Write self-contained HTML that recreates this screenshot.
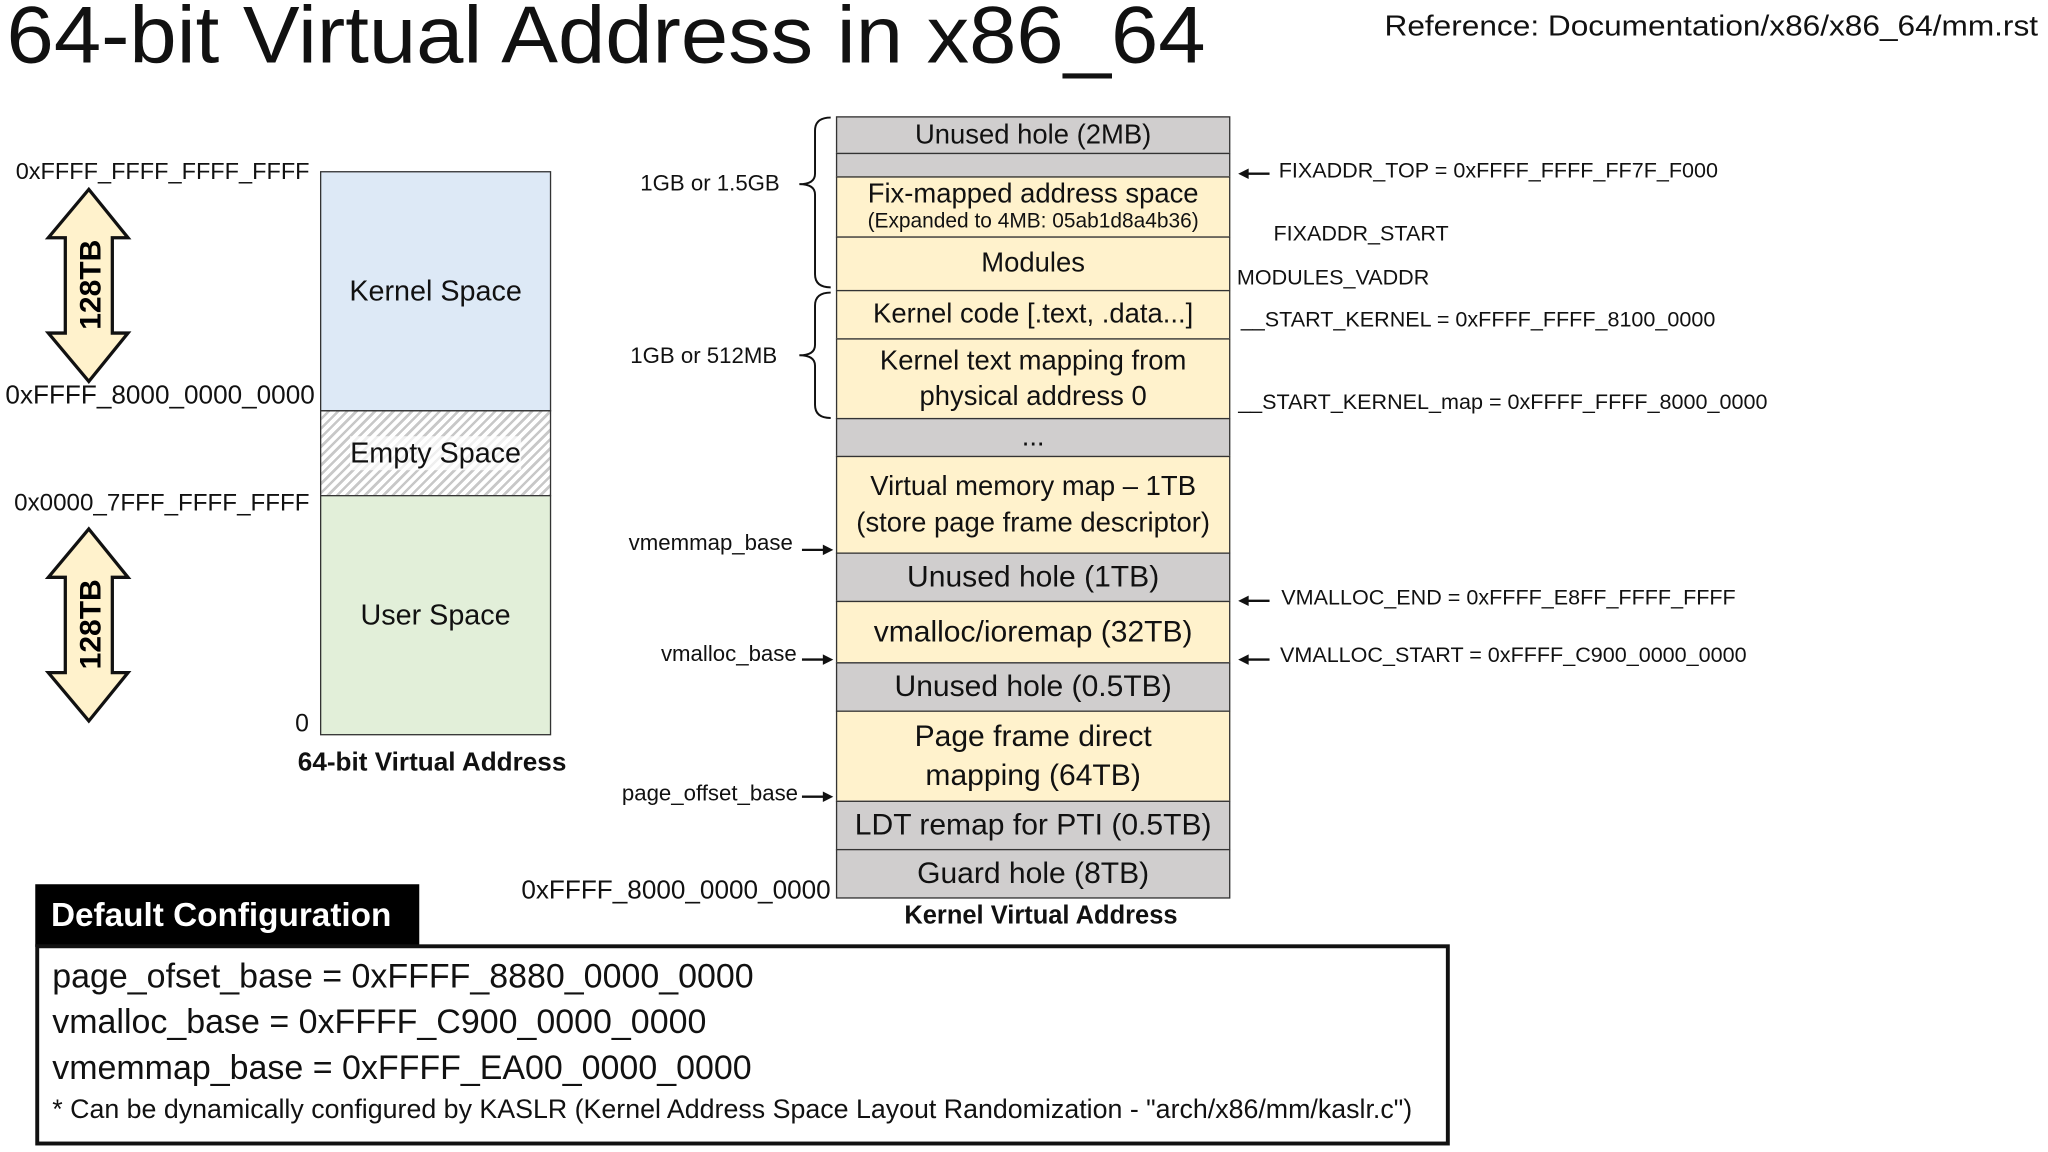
<!DOCTYPE html>
<html><head><meta charset="utf-8">
<style>
html,body{margin:0;padding:0;background:#fff;width:2048px;height:1152px;overflow:hidden}
#w{position:absolute;left:0;top:0;width:1568px;height:882px;transform:scale(1.30612);transform-origin:0 0;font-family:"Liberation Sans",sans-serif;color:#111}
.a{position:absolute;white-space:nowrap}
.r{position:absolute;left:640px;width:302px;border:1.5px solid #333;box-sizing:border-box;display:flex;flex-direction:column;align-items:center;justify-content:center;text-align:center;font-size:21px;line-height:1.3}
.g{background:#d0cece}.y{background:#fff2cc}
.lab{font-size:16.5px}
.ll{font-size:17px}
</style></head><body><div id="w">
<div class="a" style="left:5px;top:-8px;font-size:62px;transform:scaleX(1.05);transform-origin:0 0">64-bit Virtual Address in x86_64</div>
<div class="a" style="left:1060px;top:7px;font-size:22px;transform:scaleX(1.1);transform-origin:0 0">Reference: Documentation/x86/x86_64/mm.rst</div>

<!-- left column -->
<div class="a" style="left:245px;top:131px;width:177px;height:184px;background:#dde9f6;border:1.5px solid #333;box-sizing:border-box;display:flex;align-items:center;justify-content:center;font-size:22px">Kernel Space</div>
<div class="a" style="left:245px;top:314px;width:177px;height:66px;background:repeating-linear-gradient(135deg,#fff 0 3px,#c8c8c8 3px 5px);border:1.5px solid #333;box-sizing:border-box;display:flex;align-items:center;justify-content:center;font-size:22px"><span style="background:rgba(255,255,255,.7)">Empty Space</span></div>
<div class="a" style="left:245px;top:379px;width:177px;height:184px;background:#e2efd9;border:1.5px solid #333;box-sizing:border-box;display:flex;align-items:center;justify-content:center;font-size:22px">User Space</div>
<div class="a" style="right:1331px;top:121px;font-size:18px">0xFFFF_FFFF_FFFF_FFFF</div>
<div class="a" style="right:1327px;top:292px;font-size:20px">0xFFFF_8000_0000_0000</div>
<div class="a" style="right:1331px;top:374px;font-size:18.5px">0x0000_7FFF_FFFF_FFFF</div>
<div class="a" style="left:226px;top:544px;font-size:19px">0</div>
<div class="a" style="left:228px;top:573px;font-size:20px;font-weight:bold">64-bit Virtual Address</div>

<svg class="a" style="left:0;top:0" width="1568" height="882">
<polygon points="68,145 98,182 86,182 86,255 98,255 68,292 37,255 50,255 50,182 37,182" fill="#fff2cc" stroke="#111" stroke-width="2.5"/>
<polygon points="68,405 98,442 86,442 86,515 98,515 68,552 37,515 50,515 50,442 37,442" fill="#fff2cc" stroke="#111" stroke-width="2.5"/>
<text x="0" y="0" transform="translate(77,218) rotate(-90)" text-anchor="middle" font-family="Liberation Sans" font-weight="bold" font-size="23">128TB</text>
<text x="0" y="0" transform="translate(77,478) rotate(-90)" text-anchor="middle" font-family="Liberation Sans" font-weight="bold" font-size="23">128TB</text>
<path d="M636,90 Q624,90 624,100 L624,133 Q624,141 612,141 Q624,141 624,149 L624,210 Q624,220 636,220" fill="none" stroke="#111" stroke-width="1.5"/>
<path d="M636,224 Q624,224 624,234 L624,264 Q624,272 612,272 Q624,272 624,280 L624,310 Q624,320 636,320" fill="none" stroke="#111" stroke-width="1.5"/>
<g stroke="#111" stroke-width="1.8" fill="#111">
<line x1="614" y1="421" x2="632" y2="421"/><polygon points="638,421 630,417 630,425" stroke="none"/>
<line x1="614" y1="505" x2="632" y2="505"/><polygon points="638,505 630,501 630,509" stroke="none"/>
<line x1="614" y1="610" x2="632" y2="610"/><polygon points="638,610 630,606 630,614" stroke="none"/>
<line x1="954" y1="133" x2="972" y2="133"/><polygon points="948,133 956,129 956,137" stroke="none"/>
<line x1="954" y1="460" x2="972" y2="460"/><polygon points="948,460 956,456 956,464" stroke="none"/>
<line x1="954" y1="505" x2="972" y2="505"/><polygon points="948,505 956,501 956,509" stroke="none"/>
</g>
</svg>

<div class="a ll" style="right:971px;top:131px">1GB or 1.5GB</div>
<div class="a ll" style="right:973px;top:263px">1GB or 512MB</div>
<div class="a ll" style="right:961px;top:406px">vmemmap_base</div>
<div class="a ll" style="right:958px;top:491px">vmalloc_base</div>
<div class="a ll" style="right:957px;top:598px">page_offset_base</div>
<div class="a" style="right:932px;top:671px;font-size:20px">0xFFFF_8000_0000_0000</div>

<!-- kernel column -->
<div class="r g" style="top:89px;height:29px">Unused hole (2MB)</div>
<div class="r g" style="top:117px;height:19px"></div>
<div class="r y" style="top:135px;height:47px;line-height:1.15"><span>Fix-mapped address space</span><span style="font-size:16px">(Expanded to 4MB: 05ab1d8a4b36)</span></div>
<div class="r y" style="top:181px;height:42px">Modules</div>
<div class="r y" style="top:222px;height:38px">Kernel code [.text, .data...]</div>
<div class="r y" style="top:259px;height:62px">Kernel text mapping from<br>physical address 0</div>
<div class="r g" style="top:320px;height:30px">...</div>
<div class="r y" style="top:349px;height:75px;line-height:1.3">Virtual memory map – 1TB<br>(store page frame descriptor)</div>
<div class="r g" style="top:423px;height:38px;font-size:23px">Unused hole (1TB)</div>
<div class="r y" style="top:460px;height:48px;font-size:23px">vmalloc/ioremap (32TB)</div>
<div class="r g" style="top:507px;height:38px;font-size:23px">Unused hole (0.5TB)</div>
<div class="r y" style="top:544px;height:70px;font-size:23px;line-height:1.3">Page frame direct<br>mapping (64TB)</div>
<div class="r g" style="top:613px;height:38px;font-size:23px">LDT remap for PTI (0.5TB)</div>
<div class="r g" style="top:650px;height:38px;font-size:23px">Guard hole (8TB)</div>
<div class="a" style="left:640px;width:314px;text-align:center;top:690px;font-size:19.5px;font-weight:bold">Kernel Virtual Address</div>

<!-- right labels -->
<div class="a lab" style="left:979px;top:122px">FIXADDR_TOP = 0xFFFF_FFFF_FF7F_F000</div>
<div class="a lab" style="left:975px;top:170px">FIXADDR_START</div>
<div class="a lab" style="left:947px;top:204px">MODULES_VADDR</div>
<div class="a lab" style="left:950px;top:236px">__START_KERNEL = 0xFFFF_FFFF_8100_0000</div>
<div class="a lab" style="left:948px;top:299px">__START_KERNEL_map = 0xFFFF_FFFF_8000_0000</div>
<div class="a lab" style="left:981px;top:449px">VMALLOC_END = 0xFFFF_E8FF_FFFF_FFFF</div>
<div class="a lab" style="left:980px;top:493px">VMALLOC_START = 0xFFFF_C900_0000_0000</div>

<!-- default config -->
<div class="a" style="left:27px;top:677px;width:294px;height:48px;background:#000;color:#fff;font-weight:bold;font-size:25.5px;line-height:48px;padding-left:12px;box-sizing:border-box">Default Configuration</div>
<div class="a" style="left:27px;top:723px;width:1083px;height:154px;border:3px solid #111;box-sizing:border-box"></div>
<div class="a" style="left:40px;top:732px;font-size:26px">page_ofset_base = 0xFFFF_8880_0000_0000</div>
<div class="a" style="left:40px;top:767px;font-size:26px">vmalloc_base = 0xFFFF_C900_0000_0000</div>
<div class="a" style="left:40px;top:802px;font-size:26px">vmemmap_base = 0xFFFF_EA00_0000_0000</div>
<div class="a" style="left:40px;top:838px;font-size:20.5px">* Can be dynamically configured by KASLR (Kernel Address Space Layout Randomization - "arch/x86/mm/kaslr.c")</div>
</div></body></html>
